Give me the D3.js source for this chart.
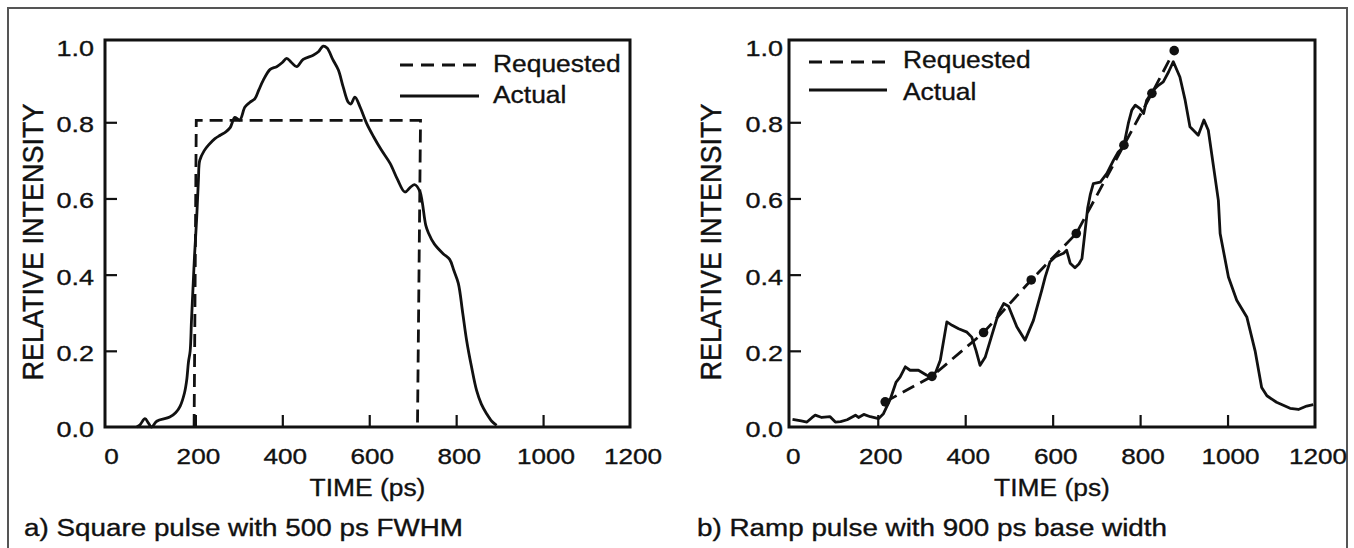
<!DOCTYPE html>
<html>
<head>
<meta charset="utf-8">
<script src="https://cdn.jsdelivr.net/npm/d3@7"></script>
<style>
  body { margin: 0; background: #fff; }
  text { font-family: "Liberation Sans", Arial, Helvetica, sans-serif; fill: #111; stroke: #111; stroke-width: 0.35px; }
</style>
</head>
<body>
<svg id="chart" width="1354" height="548"></svg>
<script>
// ---- data ----
var xTicks = [0, 200, 400, 600, 800, 1000, 1200];
var yTicks = [0, 0.2, 0.4, 0.6, 0.8, 1.0];
var legendLabels = ["Requested", "Actual"];
var captions = ["a) Square pulse with 500 ps FWHM", "b) Ramp pulse with 900 ps base width"];
var xTitle = "TIME (ps)";
var yTitle = "RELATIVE INTENSITY";

// a) square pulse
var squareRequested = [[197, 0], [202, 0.805], [718, 0.805], [711, 0]];
var squareActual = [[65,0],[72,0.005],[84,0.022],[92,0.01],[99,0],[111,0.015],[141,0.026],[155,0.038],
  [165,0.055],[175,0.09],[180,0.123],[184,0.17],[188,0.2],[191,0.28],[195,0.377],[198,0.45],[203,0.55],
  [207,0.65],[210,0.70],[220,0.725],[230,0.74],[245,0.757],[257,0.766],[270,0.775],[280,0.786],[291,0.813],
  [302,0.806],[314,0.84],[325,0.852],[337,0.862],[346,0.885],[356,0.91],[372,0.939],[387,0.946],[400,0.957],
  [410,0.968],[421,0.957],[433,0.946],[448,0.965],[471,0.976],[483,0.985],[494,1.0],[503,0.995],[516,0.965],
  [529,0.937],[540,0.893],[552,0.852],[558,0.848],[567,0.866],[579,0.84],[594,0.797],[610,0.762],[628,0.727],
  [648,0.692],[665,0.65],[682,0.617],[695,0.63],[705,0.636],[717,0.617],[722,0.59],[730,0.53],[736,0.51],
  [750,0.48],[770,0.455],[785,0.44],[795,0.41],[805,0.377],[815,0.3],[824,0.228],[835,0.16],[847,0.096],
  [858,0.06],[870,0.035],[882,0.015],[893,0.004]];

// b) ramp pulse
var rampRequested = [[217,0.066],[324,0.133],[442,0.248],[551,0.386],[654,0.508],[763,0.74],[827,0.876],[878,0.988]];
var rampActual = [[5,0.02],[15,0.018],[25,0.016],[38,0.013],[50,0.025],[57,0.031],[72,0.025],[91,0.027],
  [103,0.013],[115,0.014],[130,0.019],[149,0.031],[156,0.025],[168,0.033],[183,0.027],[202,0.022],[213,0.035],
  [229,0.074],[242,0.118],[251,0.131],[263,0.158],[274,0.149],[293,0.149],[312,0.136],[324,0.131],[333,0.145],
  [343,0.175],[358,0.276],[370,0.267],[385,0.258],[404,0.249],[415,0.236],[425,0.2],[434,0.162],[446,0.184],
  [461,0.241],[476,0.298],[488,0.324],[499,0.317],[518,0.263],[537,0.228],[556,0.28],[575,0.359],[583,0.394],
  [594,0.434],[606,0.447],[625,0.456],[632,0.464],[640,0.43],[651,0.418],[660,0.428],[667,0.442],[674,0.513],
  [680,0.574],[686,0.61],[693,0.639],[709,0.643],[724,0.666],[739,0.70],[750,0.722],[762,0.735],[773,0.797],
  [781,0.832],[789,0.845],[800,0.836],[808,0.823],[815,0.858],[830,0.884],[842,0.897],[853,0.906],[865,0.932],
  [876,0.959],[891,0.919],[903,0.858],[914,0.788],[933,0.766],[946,0.806],[956,0.779],[968,0.683],[979,0.595],
  [983,0.508],[1002,0.394],[1021,0.333],[1044,0.289],[1063,0.2],[1078,0.104],[1090,0.082],[1112,0.065],
  [1143,0.049],[1162,0.046],[1181,0.055],[1196,0.059]];

var ink = "#111";
var svg = d3.select("#chart");

// outer border of the figure
svg.append("rect")
  .attr("x", 8).attr("y", 8).attr("width", 1339).attr("height", 600)
  .attr("fill", "none").attr("stroke", "#555").attr("stroke-width", 2);

// text with a slight horizontal stretch, like the scanned original
function label(g, x, y, str, size, sx, anchor, rot) {
  return g.append("text")
    .attr("transform", "translate(" + x + "," + y + ") scale(" + sx + ",1)" + (rot ? " rotate(" + rot + ")" : ""))
    .attr("font-size", size)
    .attr("text-anchor", anchor || "start")
    .text(str);
}

var panels = [
  { left: 105, right: 630, xdom: [-8, 1200], req: squareRequested, act: squareActual,
    curve: d3.curveCatmullRom.alpha(0.5), dots: false, cap: captions[0], capX: 24,
    yGap: 11, yTitleX: 43, leg: { x1: 400, x2: 479, yDash: 65, ySolid: 96, tx: 493, ty: [72, 103] } },
  { left: 789, right: 1315, xdom: [-3, 1200], req: rampRequested, act: rampActual,
    curve: d3.curveLinear, dots: true, cap: captions[1], capX: 697,
    yGap: 6, yTitleX: 721, leg: { x1: 809, x2: 887, yDash: 62, ySolid: 90, tx: 903, ty: [68, 100] } }
];
var plotTop = 40, plotBottom = 427;

panels.forEach(function(p) {
  var g = svg.append("g");
  var x = d3.scaleLinear().domain(p.xdom).range([p.left, p.right]);
  var y = d3.scaleLinear().domain([0, 1.016]).range([plotBottom, plotTop]);

  // inward ticks (interior only)
  g.append("g")
    .attr("transform", "translate(0," + plotBottom + ")")
    .call(d3.axisBottom(x).tickValues(xTicks.slice(1, -1)).tickSize(-12).tickFormat(function() { return ""; }))
    .call(function(a) { a.select(".domain").remove(); a.selectAll("line").attr("stroke", ink).attr("stroke-width", 2.2); });
  g.append("g")
    .attr("transform", "translate(" + p.left + ",0)")
    .call(d3.axisLeft(y).tickValues(yTicks.slice(1, -1)).tickSize(-12).tickFormat(function() { return ""; }))
    .call(function(a) { a.select(".domain").remove(); a.selectAll("line").attr("stroke", ink).attr("stroke-width", 2.2); });

  // tick labels
  xTicks.forEach(function(t) { label(g, x(t) + 3, 464, String(t), 22.5, 1.16, "middle"); });
  yTicks.forEach(function(t) { label(g, p.left - p.yGap, y(t) + 10, t.toFixed(1), 22.5, 1.2, "end"); });

  // axis titles
  label(g, (p.left + p.right) / 2, 496, xTitle, 24, 1.1, "middle");
  label(g, p.yTitleX, 242, yTitle, 27, 1.12, "middle", -90);

  // curves
  var line = d3.line().x(function(d) { return x(d[0]); }).y(function(d) { return y(d[1]); });
  g.append("path").datum(p.req)
    .attr("d", line)
    .attr("fill", "none").attr("stroke", ink).attr("stroke-width", 2.8)
    .attr("stroke-dasharray", "13,7");
  g.append("path").datum(p.act)
    .attr("d", line.curve(p.curve))
    .attr("fill", "none").attr("stroke", ink).attr("stroke-width", 2.8)
    .attr("stroke-linejoin", "round");
  if (p.dots) {
    g.selectAll("circle.pt").data(p.req).enter().append("circle")
      .attr("class", "pt")
      .attr("cx", function(d) { return x(d[0]); })
      .attr("cy", function(d) { return y(d[1]); })
      .attr("r", 4.8).attr("fill", ink);
  }

  // frame
  g.append("rect")
    .attr("x", p.left).attr("y", plotTop)
    .attr("width", p.right - p.left).attr("height", plotBottom - plotTop)
    .attr("fill", "none").attr("stroke", ink).attr("stroke-width", 3);

  // legend
  var L = p.leg;
  g.append("line").attr("x1", L.x1).attr("x2", L.x2).attr("y1", L.yDash).attr("y2", L.yDash)
    .attr("stroke", ink).attr("stroke-width", 2.8).attr("stroke-dasharray", "13,8");
  g.append("line").attr("x1", L.x1).attr("x2", L.x2).attr("y1", L.ySolid).attr("y2", L.ySolid)
    .attr("stroke", ink).attr("stroke-width", 2.8);
  legendLabels.forEach(function(s, i) { label(g, L.tx, L.ty[i], s, 24, 1.1, "start"); });

  // caption
  label(svg, p.capX, 536, p.cap, 23, 1.21, "start");
});
</script>
</body>
</html>
